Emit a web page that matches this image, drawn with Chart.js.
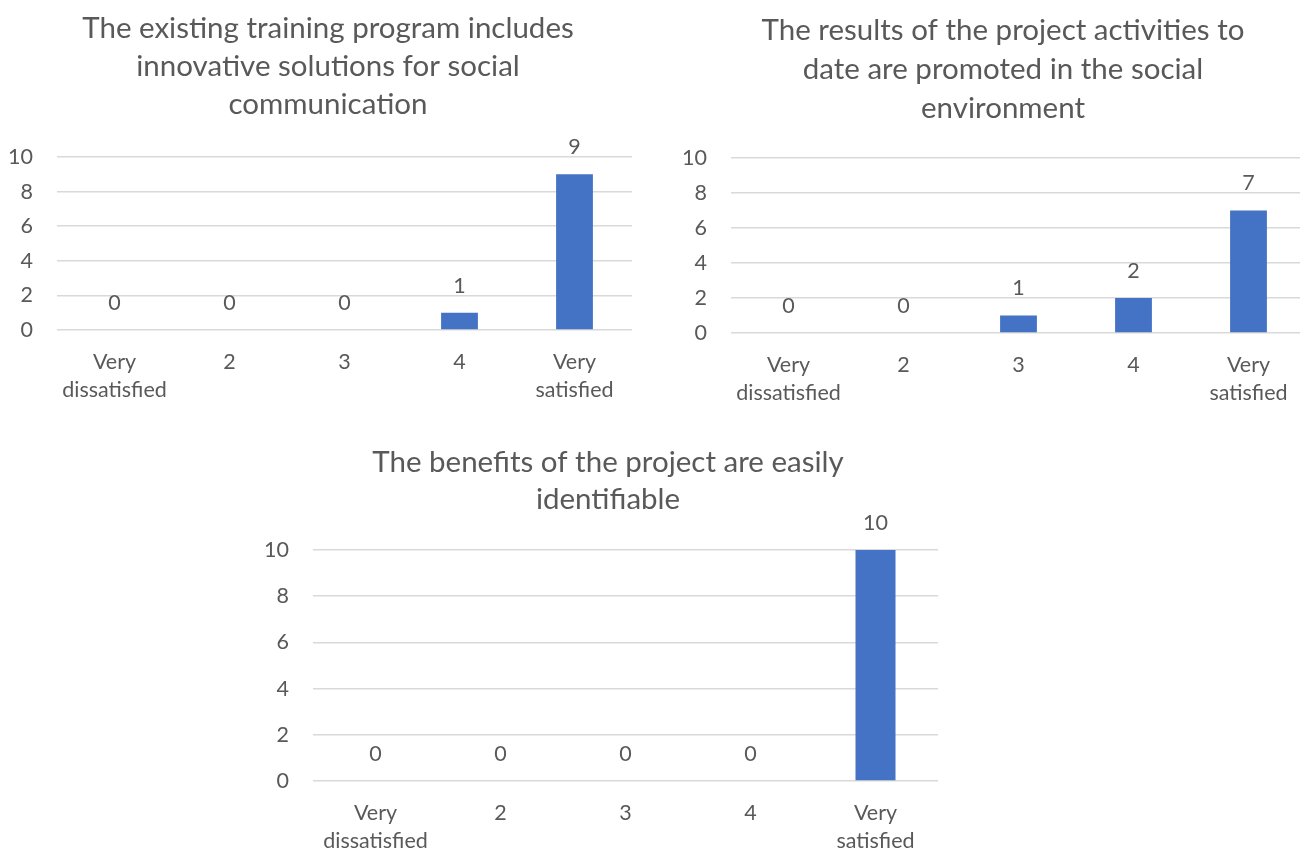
<!DOCTYPE html>
<html>
<head>
<meta charset="utf-8">
<script src="https://cdn.jsdelivr.net/npm/chart.js@4.4.1/dist/chart.umd.min.js"></script>
<style>
  html, body { margin: 0; padding: 0; background: #fff; overflow: hidden; }
  body { width: 1300px; height: 850px; position: relative; }
  .box { position: absolute; }
</style>
</head>
<body>
<div class="box" style="left:0px;top:0px;width:632px;height:410px"><canvas id="c1"></canvas></div>
<div class="box" style="left:674px;top:0px;width:632px;height:410px"><canvas id="c2"></canvas></div>
<div class="box" style="left:256px;top:420px;width:682px;height:430px"><canvas id="c3"></canvas></div>
<script>
// chart data
const categories = [['Very', 'dissatisfied'], '2', '3', '4', ['Very', 'satisfied']];
const trainingValues = [0, 0, 0, 1, 9];
const promotedValues = [0, 0, 1, 2, 7];
const benefitsValues = [0, 0, 0, 0, 10];
const yTicks = [0, 2, 4, 6, 8, 10];

const title1 = ['The existing training program includes', 'innovative solutions for social', 'communication'];
const title2 = ['The results of the project activities to', 'date are promoted in the social', 'environment'];
const title3 = ['The benefits of the project are easily', 'identifiable'];

const FONT = 'Lato, "Open Sans", sans-serif';
const TEXT = '#595959';
const BAR = '#4472C4';
const GRID = '#d9d9d9';

// draws the value above every bar
const valueLabels = {
    id: 'valueLabels',
    afterDatasetsDraw(chart) {
        const ctx = chart.ctx;
        const meta = chart.getDatasetMeta(0);
        const data = chart.data.datasets[0].data;
        ctx.save();
        ctx.font = '21.5px ' + FONT;
        ctx.fillStyle = TEXT;
        ctx.textAlign = 'center';
        ctx.textBaseline = 'middle';
        meta.data.forEach((bar, i) => {
            ctx.fillText(String(data[i]), bar.x, bar.y - 27);
        });
        ctx.restore();
    }
};

// excel centres the title over the whole chart box, nudge it a bit right
const titleShift = {
    id: 'titleShift',
    afterLayout(chart, args, options) {
        if (chart.titleBlock) {
            chart.titleBlock.left += options.shift;
            chart.titleBlock.right += options.shift;
        }
    }
};

function makeChart(id, values, title, opts) {
    const ctx = document.getElementById(id).getContext('2d');
    return new Chart(ctx, {
        type: 'bar',
        data: {
            labels: categories,
            datasets: [{
                data: values,
                backgroundColor: BAR,
                borderWidth: 0,
                categoryPercentage: 1,
                barPercentage: 0.32
            }]
        },
        options: {
            responsive: true,
            maintainAspectRatio: false,
            animation: false,
            layout: { padding: 0 },
            plugins: {
                legend: { display: false },
                tooltip: { enabled: false },
                titleShift: { shift: opts.shift },
                title: {
                    display: true,
                    text: title,
                    color: TEXT,
                    font: { family: FONT, size: 29.5, weight: 'normal', lineHeight: opts.lineHeight + 'px' },
                    padding: { top: opts.titleTop, bottom: opts.titleBottom }
                }
            },
            scales: {
                x: {
                    grid: { display: false, drawTicks: false },
                    border: { display: false },
                    ticks: {
                        color: TEXT,
                        font: { family: FONT, size: 21.5, lineHeight: '28px' },
                        padding: 18,
                        maxRotation: 0,
                        autoSkip: false
                    },
                    afterFit(scale) { scale.height = opts.xHeight; }
                },
                y: {
                    min: 0,
                    max: 10,
                    afterBuildTicks(scale) { scale.ticks = yTicks.map(v => ({ value: v })); },
                    grid: { color: GRID, lineWidth: 1.5, drawTicks: false },
                    border: { display: false },
                    ticks: {
                        color: TEXT,
                        font: { family: FONT, size: 21.5 },
                        padding: 24
                    },
                    afterFit(scale) { scale.width = 57; }
                }
            }
        },
        plugins: [valueLabels, titleShift]
    });
}

makeChart('c1', trainingValues, title1, { shift: 12, lineHeight: 38, titleTop: 9, titleBottom: 34, xHeight: 80 });
makeChart('c2', promotedValues, title2, { shift: 13, lineHeight: 39, titleTop: 10.5, titleBottom: 30.5, xHeight: 77 });
makeChart('c3', benefitsValues, title3, { shift: 11, lineHeight: 37, titleTop: 23.5, titleBottom: 32.5, xHeight: 69 });
</script>
</body>
</html>
